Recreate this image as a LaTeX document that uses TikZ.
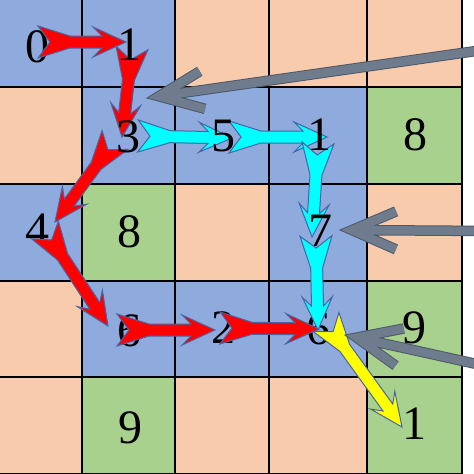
\documentclass[tikz,border=0pt]{standalone}
\usepackage{fontspec}
\setmainfont{Liberation Serif}
\usetikzlibrary{calc}
\definecolor{cblue}{HTML}{8FAADC}
\definecolor{cpeach}{HTML}{F8CBAD}
\definecolor{cgreen}{HTML}{A9D18E}
\definecolor{aline}{HTML}{4A62A6}
\definecolor{gfill}{HTML}{6E7C8E}
\definecolor{gline}{HTML}{4E5A6A}
\definecolor{ared}{HTML}{FF0000}
\definecolor{acyan}{HTML}{00FFFF}
\definecolor{ayellow}{HTML}{FFFF00}

\newcommand\cellfill[3]{%
  \pgfmathsetmacro\cxa{{0,82,175,269,367,462}[#1]}%
  \pgfmathsetmacro\cxb{{0,82,175,269,367,462}[#1+1]}%
  \pgfmathsetmacro\cya{{0,87,184,281,377,474}[#2]}%
  \pgfmathsetmacro\cyb{{0,87,184,281,377,474}[#2+1]}%
  \fill[#3] (\cxa,\cya) rectangle (\cxb,\cyb);}

% block arrow with swallow tail and barbed head, from #2 to #3, fill #1
\newcommand\blockarrow[3]{%
  \pgfpointdiff{\pgfpointanchor{#2}{center}}{\pgfpointanchor{#3}{center}}%
  \pgfgetlastxy{\bdx}{\bdy}%
  \pgfmathsetmacro\blen{veclen(\bdx,\bdy)}%
  \pgfmathsetmacro\bang{atan2(\bdy,\bdx)}%
  \pgfmathsetmacro\bin{\blen-24}%
  \pgfmathsetmacro\bbarb{\blen-33}%
  \begin{scope}[shift={(#2)}, rotate=\bang]
    \filldraw[blockstyle, fill=#1]
      (12pt,0pt) -- (0pt,-16pt) -- (32pt,-6pt) -- (\bin pt,-6pt) -- (\bbarb pt,-15pt)
      -- (\blen pt,0pt) -- (\bbarb pt,15pt) -- (\bin pt,6pt) -- (32pt,6pt) -- (0pt,16pt) -- cycle;
  \end{scope}}

% open chevron arrow from #1 (start) to #2 (tip)
\newcommand\grayarrow[2]{%
  \pgfpointdiff{\pgfpointanchor{#2}{center}}{\pgfpointanchor{#1}{center}}%
  \pgfgetlastxy{\gdx}{\gdy}%
  \pgfmathsetmacro\glen{veclen(\gdx,\gdy)}%
  \pgfmathsetmacro\gang{atan2(\gdy,\gdx)}%
  \begin{scope}[shift={(#2)}, rotate=\gang]
    \draw[line width=10.5pt, gline] (56pt,19pt) -- (12pt,0pt) -- (56pt,-19pt)
      (16pt,0pt) -- (\glen pt,0pt);
    \draw[line width=8.5pt, gfill] (56pt,19pt) -- (12pt,0pt) -- (56pt,-19pt)
      (16pt,0pt) -- (\glen pt,0pt);
  \end{scope}}

\tikzset{
  blockstyle/.style={draw=aline, line width=1pt, line join=miter},
  num/.style={font=\fontsize{48}{48}\selectfont, inner sep=0pt, text=black},
  gridline/.style={line width=1.8pt, black}
}

\begin{document}
\begin{tikzpicture}[x=1pt, y=-1pt]
\useasboundingbox (0,0) rectangle (474,474);
\clip (0,0) rectangle (474,474);
\fill[white] (0,0) rectangle (474,474);
% cells
\foreach \c/\r/\col in {0/0/cblue,1/0/cblue,2/0/cpeach,3/0/cpeach,4/0/cpeach,
  0/1/cpeach,1/1/cblue,2/1/cblue,3/1/cblue,4/1/cgreen,
  0/2/cblue,1/2/cgreen,2/2/cpeach,3/2/cblue,4/2/cpeach,
  0/3/cpeach,1/3/cblue,2/3/cblue,3/3/cblue,4/3/cgreen,
  0/4/cpeach,1/4/cgreen,2/4/cpeach,3/4/cpeach,4/4/cgreen}
  {\cellfill{\c}{\r}{\col}}
% grid
\foreach \x in {82,175,269,367,462} \draw[gridline] (\x,0) -- (\x,474);
\foreach \y in {87,184,281,377,474} \draw[gridline] (0,\y) -- (462,\y);

% numbers under arrows
\node[num] (n0) at (37,47) {0};
\node[num] (n4) at (37,230) {4};
\node[num] (n6a) at (129,331) {6};
\node[num] (n2) at (223,328) {2};
\node[num] (n6b) at (318,329) {6};

% arrow end points
\coordinate (r1s) at (38,42);  \coordinate (r1e) at (126,42);
\coordinate (r2s) at (132,48); \coordinate (r2e) at (122,137);
\coordinate (r3s) at (115,140); \coordinate (r3e) at (55,222);
\coordinate (r4s) at (45,230); \coordinate (r4e) at (108,326);
\coordinate (r5s) at (117,330); \coordinate (r5e) at (215,330);
\coordinate (r6s) at (220,328); \coordinate (r6e) at (319,329);
\coordinate (c1s) at (138,136); \coordinate (c1e) at (232,138);
\coordinate (c2s) at (229,137); \coordinate (c2e) at (327,137);
\coordinate (c3s) at (318,143); \coordinate (c3e) at (312,237);
\coordinate (c4s) at (316,236); \coordinate (c4e) at (318,330);
\coordinate (y1s) at (326,322); \coordinate (y1e) at (402,427);
\coordinate (g1s) at (490,49);  \coordinate (g1e) at (147,98);
\coordinate (g2s) at (490,231); \coordinate (g2e) at (340,230);
\coordinate (g3s) at (490,367); \coordinate (g3e) at (345,335);

\blockarrow{ared}{r1s}{r1e}
\blockarrow{ared}{r2s}{r2e}
\blockarrow{ared}{r3s}{r3e}
\blockarrow{ared}{r4s}{r4e}
\blockarrow{ared}{r5s}{r5e}
\blockarrow{ared}{r6s}{r6e}
\blockarrow{acyan}{c1s}{c1e}
\blockarrow{acyan}{c2s}{c2e}
\blockarrow{acyan}{c3s}{c3e}
\blockarrow{acyan}{c4s}{c4e}
\blockarrow{ayellow}{y1s}{y1e}
\grayarrow{g1s}{g1e}
\grayarrow{g2s}{g2e}
\grayarrow{g3s}{g3e}

% numbers over arrows
\node[num] (n1a) at (129,45) {1};
\node[num] (n3) at (128,137) {3};
\node[num] (n5) at (223,136) {5};
\node[num] (n1b) at (319,135) {1};
\node[num] (n8a) at (415,135) {8};
\node[num] (n8b) at (129,232) {8};
\node[num] (n7) at (320,231) {7};
\node[num] (n9a) at (414,328) {9};
\node[num] (n9b) at (130,428) {9};
\node[num] (n1c) at (414,424) {1};
\end{tikzpicture}
\end{document}
